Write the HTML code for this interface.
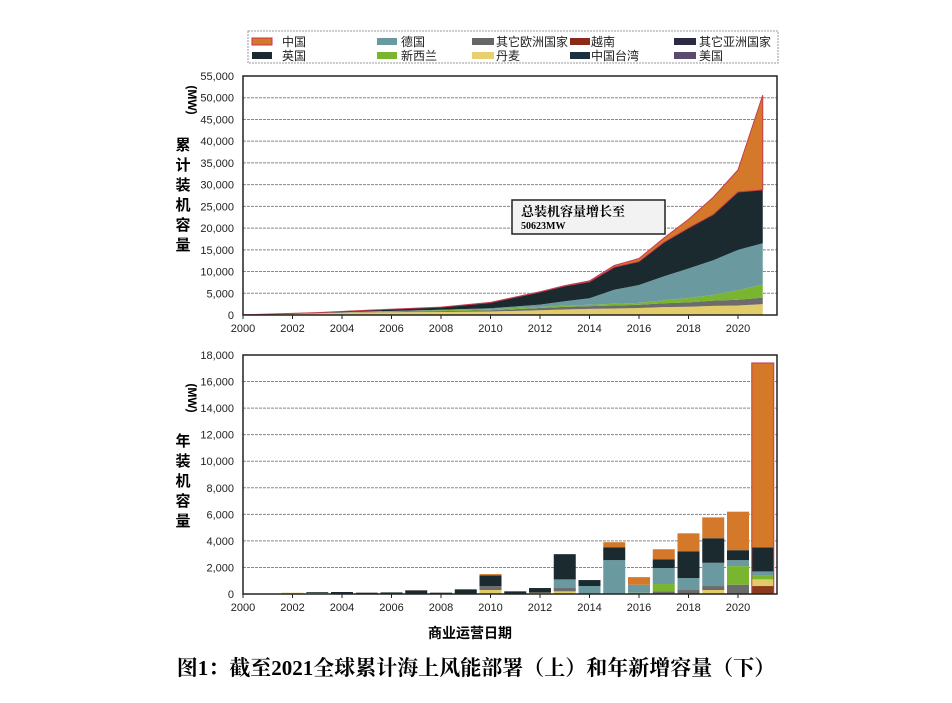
<!DOCTYPE html>
<html><head><meta charset="utf-8"><style>
body{margin:0;background:#fff;width:952px;height:703px;overflow:hidden;font-family:"Liberation Sans","Noto Sans CJK SC",sans-serif}
</style></head><body>
<svg id="s" width="952" height="703" xmlns="http://www.w3.org/2000/svg" style="position:absolute;left:0;top:0">
<rect x="248" y="31" width="530" height="32" fill="#fff" stroke="#999" stroke-dasharray="2,1"/>
<g font-size="12" fill="#222" font-family="Liberation Sans,Noto Sans CJK SC,sans-serif">
<rect x="252" y="38" width="20" height="7" fill="#d4782a" stroke="#d03050"/><text x="282" y="46">中国</text>
<rect x="252" y="52" width="20" height="7" fill="#1a2a2e"/><text x="282" y="60">英国</text>
<rect x="377" y="38" width="20" height="7" fill="#6a9aa0"/><text x="401" y="46">德国</text>
<rect x="377" y="52" width="20" height="7" fill="#7ab530"/><text x="401" y="60">新西兰</text>
<rect x="472" y="38" width="22" height="7" fill="#666"/><text x="496" y="46">其它欧洲国家</text>
<rect x="570" y="38" width="20" height="7" fill="#8b2a1a"/><text x="591" y="46">越南</text>
<rect x="472" y="52" width="22" height="7" fill="#e8d070"/><text x="496" y="60">丹麦</text>
<rect x="570" y="52" width="20" height="7" fill="#1a3040"/><text x="591" y="60">中国台湾</text>
<rect x="674" y="38" width="22" height="7" fill="#2a2a45"/><text x="699" y="46">其它亚洲国家</text>
<rect x="674" y="52" width="22" height="7" fill="#5a4a70"/><text x="699" y="60">美国</text>
</g>
<g id="gtop"></g><g id="gbot"></g>
<rect x="243" y="76" width="534" height="239" fill="none" stroke="#222" stroke-width="1.5"/>
<rect x="243" y="355" width="534" height="239" fill="none" stroke="#222" stroke-width="1.5"/>
<rect x="512" y="200" width="153" height="34" fill="#f2f2f2" stroke="#222" stroke-width="1.5"/>
<text x="521" y="216" font-size="13" font-weight="bold" font-family="Liberation Serif,Noto Serif CJK SC,serif">总装机容量增长至</text>
<text x="521" y="229" font-size="10" font-weight="bold" font-family="Liberation Serif,serif">50623MW</text>
<g font-size="15" font-weight="bold" font-family="Liberation Sans,Noto Sans CJK SC,sans-serif" text-anchor="middle">
<text x="183" y="150">累</text><text x="183" y="170">计</text><text x="183" y="190">装</text><text x="183" y="210">机</text><text x="183" y="230">容</text><text x="183" y="250">量</text>
<text transform="translate(188,100) rotate(90)" font-size="12">(MW)</text>
<text transform="translate(188,398) rotate(90)" font-size="12">(MW)</text>
<text x="183" y="446">年</text><text x="183" y="466">装</text><text x="183" y="486">机</text><text x="183" y="506">容</text><text x="183" y="526">量</text>
<text x="470" y="638" font-size="14">商业运营日期</text>
</g>
<text x="476" y="675" text-anchor="middle" font-size="21" font-weight="bold" font-family="Liberation Serif,Noto Serif CJK SC,serif">图1：截至2021全球累计海上风能部署（上）和年新增容量（下）</text>
</svg>
<script>
(function(){
var NS="http://www.w3.org/2000/svg";
function el(p,t,a,txt){var e=document.createElementNS(NS,t);for(var k in a)e.setAttribute(k,a[k]);if(txt!=null)e.textContent=txt;p.appendChild(e);return e;}
function X(y){return 243+24.75*(y-2000);}
function fmt(v){return v>=1000?Math.floor(v/1000)+","+("000"+(v%1000)).slice(-3):""+v;}
var gt=document.getElementById("gtop"),gb=document.getElementById("gbot");
for(var v=0;v<=55000;v+=5000){var y=315-v*239/55000;if(v>0)el(gt,"line",{x1:243,x2:777,y1:y,y2:y,stroke:"#888","stroke-dasharray":"3,1"});el(gt,"text",{x:234,y:y+4,"font-size":11,"text-anchor":"end",fill:"#222"},fmt(v));}
for(var v=0;v<=18000;v+=2000){var y=594-v*239/18000;if(v>0)el(gb,"line",{x1:243,x2:777,y1:y,y2:y,stroke:"#888","stroke-dasharray":"3,1"});el(gb,"text",{x:234,y:y+4,"font-size":11,"text-anchor":"end",fill:"#222"},fmt(v));}
for(var yr=2000;yr<=2020;yr+=2){[[gt,315],[gb,594]].forEach(function(o){el(o[0],"line",{x1:X(yr),x2:X(yr),y1:o[1],y2:o[1]+4,stroke:"#222"});el(o[0],"text",{x:X(yr),y:o[1]+17,"font-size":11,"text-anchor":"middle",fill:"#222"},yr);});}
var yrs=[2000,2003,2005,2008,2010,2012,2013,2014,2015,2016,2017,2018,2019,2020,2021];
var L={
yel:[50,400,600,700,800,1100,1270,1400,1500,1600,1800,1900,2100,2200,2500],
gry:[0,50,100,200,300,500,600,650,700,750,900,1000,1200,1300,1500],
grn:[0,0,50,200,250,280,300,300,400,450,700,1000,1300,2200,3000],
tea:[0,0,50,100,200,500,1000,1500,3200,4100,5500,6800,8000,9300,9500],
blk:[0,100,300,600,1300,2900,3500,3800,5200,5400,7800,9300,10500,13300,12300],
ora:[0,0,0,0,50,80,100,200,400,700,1000,2000,4000,5100,21800]};
var cols={yel:"#e2cc6a",gry:"#6c6c6c",grn:"#7ab530",tea:"#6a9aa0",blk:"#1a2a2e",ora:"#d4782a",bro:"#8b3a1a"};
var cum=yrs.map(function(){return 0;});
["yel","gry","grn","tea","blk","ora"].forEach(function(k){
 var lo=cum.slice();cum=cum.map(function(c,i){return c+L[k][i];});
 var pts=[];yrs.forEach(function(y,i){pts.push(X(y)+","+(315-cum[i]*239/55000));});
 for(var i=yrs.length-1;i>=0;i--)pts.push(X(yrs[i])+","+(315-lo[i]*239/55000));
 el(gt,"polygon",{points:pts.join(" "),fill:cols[k],stroke:k=="ora"?"#c83a50":"none","stroke-width":k=="ora"?1:0});
});
var B=[[2002,[["yel",100]]],[2003,[["yel",80],["blk",60]]],[2004,[["blk",150]]],[2005,[["blk",100]]],[2006,[["blk",120]]],[2007,[["blk",250],["gry",50]]],[2008,[["blk",100]]],[2009,[["blk",350]]],
[2010,[["yel",300],["gry",300],["blk",800],["ora",100]]],[2011,[["blk",200]]],[2012,[["yel",100],["blk",350]]],
[2013,[["yel",200],["gry",250],["tea",650],["blk",1900]]],[2014,[["tea",600],["blk",450]]],
[2015,[["tea",2550],["blk",970],["ora",380]]],[2016,[["grn",100],["tea",600],["ora",570]]],
[2017,[["gry",200],["grn",550],["tea",1200],["blk",650],["ora",770]]],[2018,[["gry",300],["tea",900],["blk",2000],["ora",1370]]],
[2019,[["yel",300],["gry",300],["tea",1750],["blk",1850],["ora",1570]]],[2020,[["gry",700],["grn",1400],["tea",450],["blk",750],["ora",2900]]],
[2021,[["bro",600],["yel",500],["grn",300],["tea",300],["blk",1800],["ora",13900]]]];
B.forEach(function(b){var c=0;b[1].forEach(function(s){var y0=594-c*239/18000;c+=s[1];var y1=594-c*239/18000;
 el(gb,"rect",{x:X(b[0])-11,y:y1,width:22,height:y0-y1,fill:cols[s[0]]});});
 if(b[0]==2021)el(gb,"rect",{x:X(b[0])-11,y:594-c*239/18000,width:22,height:c*239/18000,fill:"none",stroke:"#c83a50","stroke-width":1});
});
})();
</script>
</body></html>
